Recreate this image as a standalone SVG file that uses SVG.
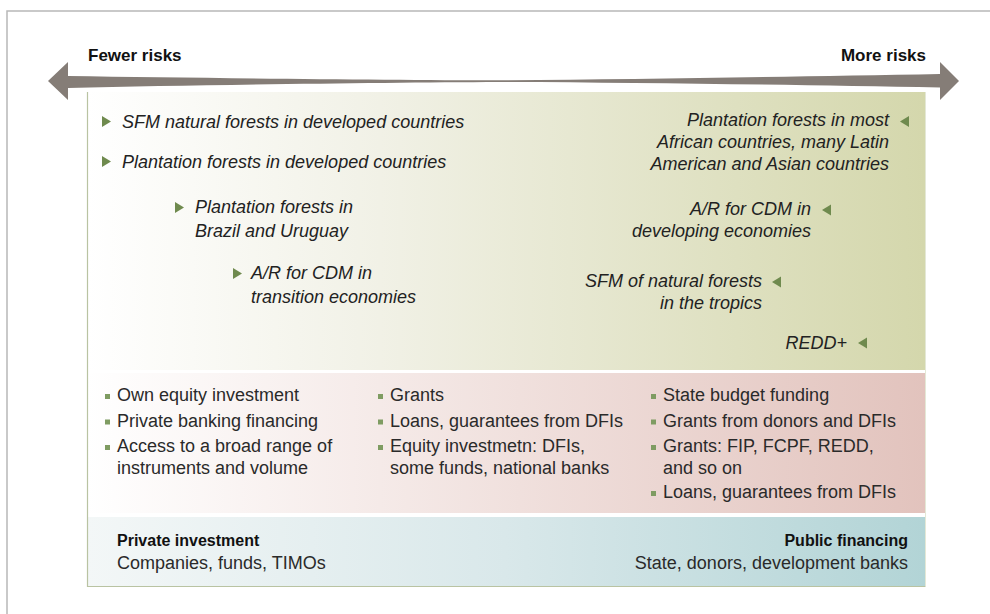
<svg xmlns="http://www.w3.org/2000/svg" width="990" height="614" viewBox="0 0 990 614">
  <defs>
    <linearGradient id="gGreen" x1="0" y1="0" x2="1" y2="0">
      <stop offset="0" stop-color="#ffffff"/>
      <stop offset="0.35" stop-color="#f1f1e6"/>
      <stop offset="1" stop-color="#d4d7ac"/>
    </linearGradient>
    <linearGradient id="gPink" x1="0" y1="0" x2="1" y2="0">
      <stop offset="0" stop-color="#ffffff"/>
      <stop offset="0.35" stop-color="#f5eae8"/>
      <stop offset="1" stop-color="#e2c3bd"/>
    </linearGradient>
    <linearGradient id="gBlue" x1="0" y1="0" x2="1" y2="0">
      <stop offset="0" stop-color="#f3f7f7"/>
      <stop offset="0.5" stop-color="#d9e8ea"/>
      <stop offset="1" stop-color="#b2d4d6"/>
    </linearGradient>
    <style>
      .lbl { font-family: "Liberation Sans", Arial, sans-serif; font-size: 17px; font-weight: bold; fill: #111111; }
      .it { font-family: "Liberation Sans", Arial, sans-serif; font-size: 18px; font-style: italic; fill: #222222; }
      .rg { font-family: "Liberation Sans", Arial, sans-serif; font-size: 18px; fill: #2a2a2a; }
      .bd { font-family: "Liberation Sans", Arial, sans-serif; font-size: 16px; font-weight: bold; fill: #111111; }
      .end { text-anchor: end; }
      .tri { fill: #6f8a4e; }
      .sq { fill: #7f9c62; }
    </style>
  </defs>

  <!-- page frame -->
  <g id="frame" fill="none" stroke="#b8b8b8" stroke-width="1.5">
    <path d="M990,11 H7 V614"/>
  </g>

  <!-- panels -->
  <g id="panel-projects">
    <rect x="87" y="92" width="838" height="278" fill="url(#gGreen)"/>
  </g>
  <g id="panel-instruments">
    <rect x="87" y="373" width="838" height="140" fill="url(#gPink)"/>
  </g>
  <g id="panel-sources">
    <rect x="87" y="517" width="838" height="69" fill="url(#gBlue)"/>
  </g>
  <g id="panel-border" fill="none">
    <path d="M87.5,92 V586.5 H925.5" stroke="#b9c3a2" stroke-width="1.2"/>
    <path d="M925.5,92 V586" stroke="#e4e8d6" stroke-width="1"/>
  </g>

  <!-- risk axis -->
  <g id="connectors">
    <path d="M48,81 L68,62 L68,76 C200,78 380,80 500,80.3 C640,79.5 800,76.5 940,74 L940,62 L959,81 L940,100 L940,87.5 C800,85 640,82.5 500,82 C380,82.5 200,85 68,88 L68,100 Z" fill="#857d77"/>
  </g>
  <g id="label-fewer"><text class="lbl" x="88" y="61">Fewer risks</text></g>
  <g id="label-more"><text class="lbl end" x="926" y="61">More risks</text></g>

  <!-- left projects -->
  <g id="proj-sfm-developed">
    <polygon class="tri" points="102,116 111,121.5 102,127"/>
    <text class="it" x="122" y="128">SFM natural forests in developed countries</text>
  </g>
  <g id="proj-plantation-developed">
    <polygon class="tri" points="102,156 111,161.5 102,167"/>
    <text class="it" x="122" y="168">Plantation forests in developed countries</text>
  </g>
  <g id="proj-plantation-brazil">
    <polygon class="tri" points="175,202 184,207.5 175,213"/>
    <text class="it" x="195" y="213">Plantation forests in</text>
    <text class="it" x="195" y="237">Brazil and Uruguay</text>
  </g>
  <g id="proj-ar-transition">
    <polygon class="tri" points="233,268 242,273.5 233,279"/>
    <text class="it" x="251" y="279">A/R for CDM in</text>
    <text class="it" x="251" y="303">transition economies</text>
  </g>

  <!-- right projects -->
  <g id="proj-plantation-africa">
    <polygon class="tri" points="909,116 900,121.5 909,127"/>
    <text class="it end" x="889" y="126">Plantation forests in most</text>
    <text class="it end" x="889" y="148">African countries, many Latin</text>
    <text class="it end" x="889" y="170">American and Asian countries</text>
  </g>
  <g id="proj-ar-developing">
    <polygon class="tri" points="831,204.5 822,210 831,215.5"/>
    <text class="it end" x="811" y="215">A/R for CDM in</text>
    <text class="it end" x="811" y="237">developing economies</text>
  </g>
  <g id="proj-sfm-tropics">
    <polygon class="tri" points="781,276.5 772,282 781,287.5"/>
    <text class="it end" x="762" y="287">SFM of natural forests</text>
    <text class="it end" x="762" y="309">in the tropics</text>
  </g>
  <g id="proj-redd">
    <polygon class="tri" points="867,337.5 858,343 867,348.5"/>
    <text class="it end" x="847" y="349">REDD+</text>
  </g>

  <!-- instruments -->
  <g id="instr-private">
    <rect class="sq" x="105" y="394" width="5" height="5"/>
    <text class="rg" x="117" y="401">Own equity investment</text>
    <rect class="sq" x="105" y="419.5" width="5" height="5"/>
    <text class="rg" x="117" y="426.5">Private banking financing</text>
    <rect class="sq" x="105" y="445" width="5" height="5"/>
    <text class="rg" x="117" y="452">Access to a broad range of</text>
    <text class="rg" x="117" y="474">instruments and volume</text>
  </g>
  <g id="instr-mixed">
    <rect class="sq" x="378" y="394" width="5" height="5"/>
    <text class="rg" x="390" y="401">Grants</text>
    <rect class="sq" x="378" y="419.5" width="5" height="5"/>
    <text class="rg" x="390" y="426.5">Loans, guarantees from DFIs</text>
    <rect class="sq" x="378" y="445" width="5" height="5"/>
    <text class="rg" x="390" y="452">Equity investmetn: DFIs,</text>
    <text class="rg" x="390" y="474">some funds, national banks</text>
  </g>
  <g id="instr-public">
    <rect class="sq" x="651" y="394" width="5" height="5"/>
    <text class="rg" x="663" y="401">State budget funding</text>
    <rect class="sq" x="651" y="419.5" width="5" height="5"/>
    <text class="rg" x="663" y="426.5">Grants from donors and DFIs</text>
    <rect class="sq" x="651" y="445" width="5" height="5"/>
    <text class="rg" x="663" y="452">Grants: FIP, FCPF, REDD,</text>
    <text class="rg" x="663" y="474">and so on</text>
    <rect class="sq" x="651" y="491" width="5" height="5"/>
    <text class="rg" x="663" y="498">Loans, guarantees from DFIs</text>
  </g>

  <!-- sources -->
  <g id="src-private">
    <text class="bd" x="117" y="546">Private investment</text>
    <text class="rg" x="117" y="569">Companies, funds, TIMOs</text>
  </g>
  <g id="src-public">
    <text class="bd end" x="908" y="546">Public financing</text>
    <text class="rg end" x="908" y="569">State, donors, development banks</text>
  </g>
</svg>
